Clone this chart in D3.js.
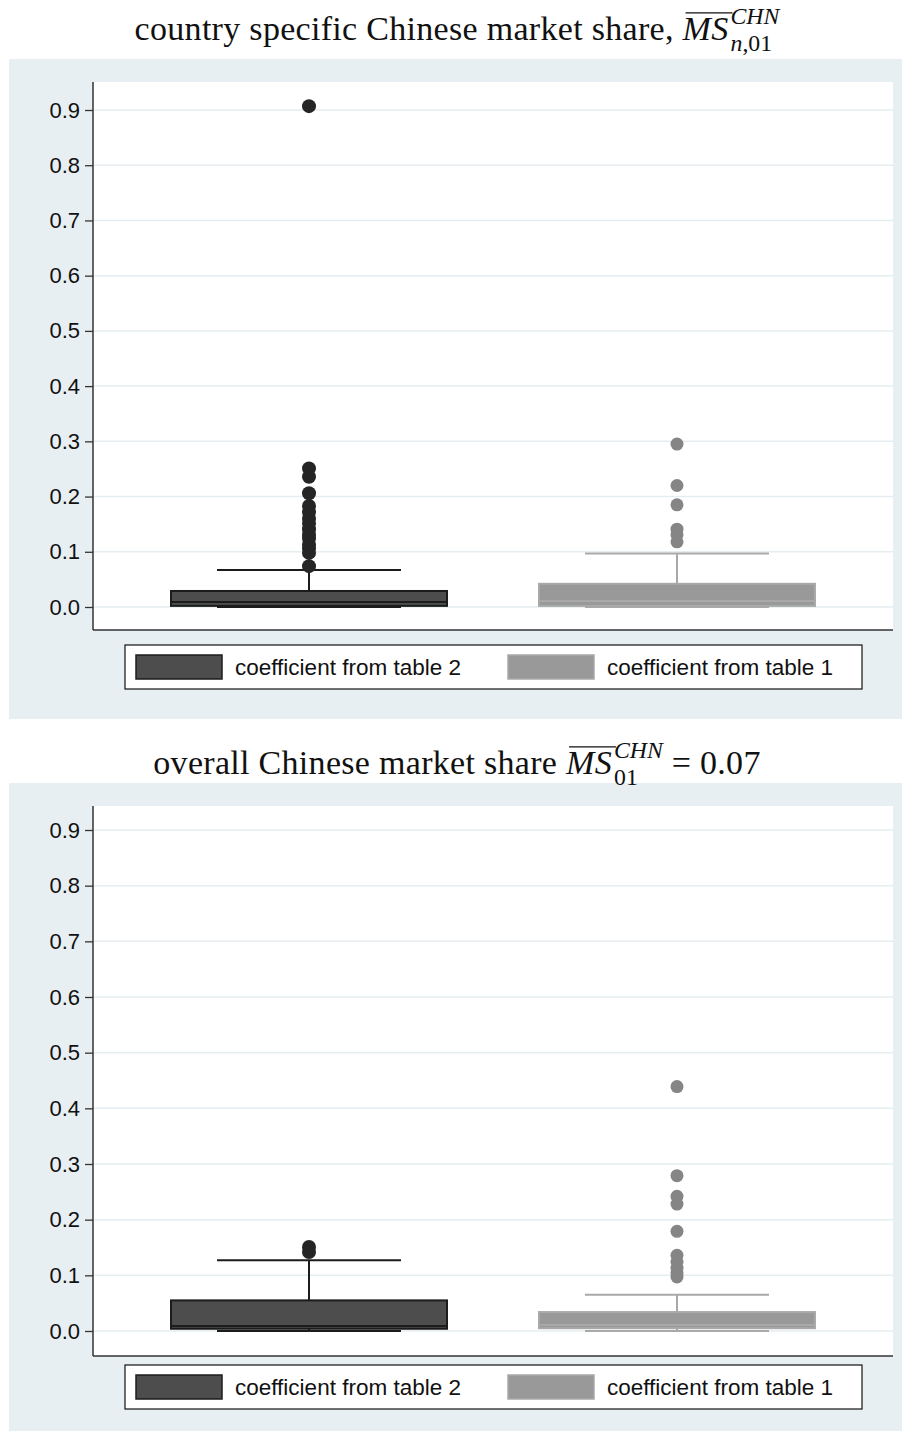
<!DOCTYPE html>
<html>
<head>
<meta charset="utf-8">
<script src="https://cdn.jsdelivr.net/npm/d3@7"></script>
<style>
  body { margin: 0; background: #fff; }
  svg { display: block; }
</style>
</head>
<body>
<svg id="chart"></svg>
<script>
const width = 906;
const height = 1436;

const seriesNames = ["coefficient from table 2", "coefficient from table 1"];
const yTicks = [0, 0.1, 0.2, 0.3, 0.4, 0.5, 0.6, 0.7, 0.8, 0.9];

// country specific market share: box stats per series
const countryMin = [0, 0];
const countryQ1 = [0.002, 0.002];
const countryMedian = [0.009, 0.011];
const countryQ3 = [0.029, 0.042];
const countryUpper = [0.067, 0.097];
const countryOutliers = [
  [0.907, 0.251, 0.236, 0.206, 0.183, 0.172, 0.160, 0.151, 0.141, 0.131, 0.124, 0.113, 0.106, 0.098, 0.074],
  [0.295, 0.220, 0.185, 0.141, 0.131, 0.118]
];

// overall market share: box stats per series
const overallMin = [0, 0];
const overallQ1 = [0.004, 0.005];
const overallMedian = [0.009, 0.011];
const overallQ3 = [0.055, 0.034];
const overallUpper = [0.127, 0.065];
const overallOutliers = [
  [0.151, 0.142],
  [0.439, 0.279, 0.242, 0.228, 0.179, 0.136, 0.124, 0.113, 0.104, 0.097]
];

const fills = ["#4d4d4d", "#999999"];
const strokes = ["#1c1c1c", "#a9a9a9"];
const dotColors = ["#252525", "#858585"];

const svg = d3.select("#chart")
    .attr("width", width)
    .attr("height", height);

const left = 93, right = 893;

const xScale = d3.scalePoint()
    .domain(seriesNames)
    .range([left, right])
    .padding(0.587);
const step = xScale.step();

function drawTitle(g, atoms, cy, size) {
    // lay out text atoms left to right, then center
    const t = g.append("g");
    let x = 0;
    atoms.forEach(a => {
        if (a.script) {
            const sup = t.append("text").attr("x", x).attr("y", cy - size * 0.46)
                .style("font-size", size * 0.7 + "px");
            a.script[0].forEach(p => sup.append("tspan").text(p[0]).style("font-style", p[1] ? "italic" : "normal"));
            const sub = t.append("text").attr("x", x).attr("y", cy + size * 0.33)
                .style("font-size", size * 0.7 + "px");
            a.script[1].forEach(p => sub.append("tspan").text(p[0]).style("font-style", p[1] ? "italic" : "normal"));
            x += Math.max(sup.node().getComputedTextLength(), sub.node().getComputedTextLength());
        } else {
            const el = t.append("text").attr("x", x).attr("y", cy)
                .style("font-size", size + "px")
                .style("font-style", a.italic ? "italic" : "normal")
                .style("letter-spacing", "0.3px")
                .style("white-space", "pre")
                .text(a.text);
            const w = el.node().getComputedTextLength();
            if (a.over) {
                t.append("line")
                    .attr("x1", x + 3).attr("x2", x + w + 4)
                    .attr("y1", cy - size * 0.8).attr("y2", cy - size * 0.8)
                    .attr("stroke", "#111").attr("stroke-width", 1.3);
            }
            x += w + (a.gap || 0);
        }
    });
    t.selectAll("text")
        .attr("fill", "#111")
        .style("font-family", "'Liberation Serif', 'DejaVu Serif', serif");
    t.attr("transform", `translate(${(width - x) / 2 + 4}, 0)`);
}

function drawPanel(p) {
    const g = svg.append("g");

    g.append("rect")
        .attr("x", 9).attr("y", p.bgTop)
        .attr("width", 893).attr("height", p.bgBottom - p.bgTop)
        .attr("fill", "#e8eff2");

    g.append("rect")
        .attr("x", left).attr("y", p.plotTop)
        .attr("width", right - left).attr("height", p.plotBottom - p.plotTop)
        .attr("fill", "#fff");

    drawTitle(g, p.title, p.titleY, 34);

    const yScale = d3.scaleLinear()
        .domain([0, 0.9])
        .range([p.y0, p.y9]);

    // grid
    g.selectAll(".grid")
        .data(yTicks)
        .enter()
        .append("line")
        .attr("x1", left).attr("x2", right)
        .attr("y1", d => yScale(d)).attr("y2", d => yScale(d))
        .attr("stroke", "#e6edf1")
        .attr("stroke-width", 1.5);

    const yAxis = d3.axisLeft(yScale)
        .tickValues(yTicks)
        .tickFormat(d3.format(".1f"))
        .tickSize(8)
        .tickPadding(5);

    const ax = g.append("g")
        .attr("transform", `translate(${left}, 0)`)
        .call(yAxis);
    ax.select(".domain").remove();
    ax.selectAll(".tick line").attr("stroke", "#333").attr("stroke-width", 1.3);
    ax.selectAll(".tick text")
        .attr("fill", "#111")
        .style("font-family", "'Liberation Sans', Arial, sans-serif")
        .style("font-size", "22px");

    g.append("line")
        .attr("x1", left).attr("x2", left)
        .attr("y1", p.plotTop).attr("y2", p.plotBottom)
        .attr("stroke", "#333").attr("stroke-width", 1.5);
    g.append("line")
        .attr("x1", left).attr("x2", right)
        .attr("y1", p.plotBottom).attr("y2", p.plotBottom)
        .attr("stroke", "#333").attr("stroke-width", 1.5);

    const boxW = step * 0.75;
    const capW = step * 0.5;

    seriesNames.forEach((s, i) => {
        const cx = xScale(s);
        const bg = g.append("g");
        // whiskers
        bg.append("line")
            .attr("x1", cx).attr("x2", cx)
            .attr("y1", yScale(p.q3[i])).attr("y2", yScale(p.upper[i]))
            .attr("stroke", strokes[i]).attr("stroke-width", 2);
        bg.append("line")
            .attr("x1", cx).attr("x2", cx)
            .attr("y1", yScale(p.q1[i])).attr("y2", yScale(p.min[i]))
            .attr("stroke", strokes[i]).attr("stroke-width", 2);
        bg.selectAll(".cap")
            .data([p.upper[i], p.min[i]])
            .enter()
            .append("line")
            .attr("x1", cx - capW / 2).attr("x2", cx + capW / 2)
            .attr("y1", d => yScale(d)).attr("y2", d => yScale(d))
            .attr("stroke", strokes[i]).attr("stroke-width", 2);
        // box
        bg.append("rect")
            .attr("x", cx - boxW / 2)
            .attr("y", yScale(p.q3[i]))
            .attr("width", boxW)
            .attr("height", yScale(p.q1[i]) - yScale(p.q3[i]))
            .attr("fill", fills[i])
            .attr("stroke", strokes[i])
            .attr("stroke-width", 2);
        bg.append("line")
            .attr("x1", cx - boxW / 2).attr("x2", cx + boxW / 2)
            .attr("y1", yScale(p.median[i])).attr("y2", yScale(p.median[i]))
            .attr("stroke", strokes[i]).attr("stroke-width", 2);
        // outliers
        bg.selectAll(".out")
            .data(p.outliers[i])
            .enter()
            .append("circle")
            .attr("cx", cx)
            .attr("cy", d => yScale(d))
            .attr("r", i === 0 ? 7 : 6.5)
            .attr("fill", dotColors[i]);
    });

    // legend
    const lg = g.append("g").attr("transform", `translate(125, ${p.legendY})`);
    lg.append("rect")
        .attr("width", 737).attr("height", 44)
        .attr("fill", "#fff")
        .attr("stroke", "#111").attr("stroke-width", 1.2);
    const items = lg.selectAll(".item")
        .data(seriesNames)
        .enter()
        .append("g")
        .attr("transform", (d, i) => `translate(${11 + i * 372}, 0)`);
    items.append("rect")
        .attr("x", 0).attr("y", 10)
        .attr("width", 86).attr("height", 24)
        .attr("fill", (d, i) => fills[i])
        .attr("stroke", (d, i) => strokes[i])
        .attr("stroke-width", 1.5);
    items.append("text")
        .attr("x", 99).attr("y", 30)
        .attr("fill", "#111")
        .style("font-family", "'Liberation Sans', Arial, sans-serif")
        .style("font-size", "22.5px")
        .text(d => d);
}

drawPanel({
    title: [
        { text: "country specific Chinese market share, " },
        { text: "MS", italic: true, over: true, gap: 2 },
        { script: [[["CHN", true]], [["n", true], [",01", false]]] }
    ],
    titleY: 40,
    bgTop: 59, bgBottom: 719,
    plotTop: 82, plotBottom: 630,
    y0: 607, y9: 110,
    legendY: 645,
    min: countryMin, q1: countryQ1, median: countryMedian, q3: countryQ3, upper: countryUpper,
    outliers: countryOutliers
});

drawPanel({
    title: [
        { text: "overall Chinese market share " },
        { text: "MS", italic: true, over: true, gap: 2 },
        { script: [[["CHN", true]], [["01", false]]] },
        { text: " = 0.07" }
    ],
    titleY: 774,
    bgTop: 783, bgBottom: 1431,
    plotTop: 806, plotBottom: 1356,
    y0: 1331, y9: 830,
    legendY: 1365,
    min: overallMin, q1: overallQ1, median: overallMedian, q3: overallQ3, upper: overallUpper,
    outliers: overallOutliers
});
</script>
</body>
</html>
